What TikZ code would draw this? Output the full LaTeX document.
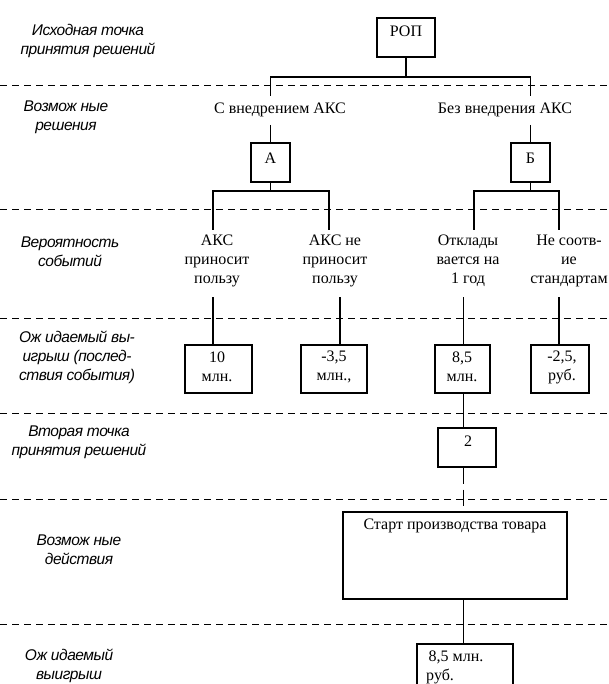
\documentclass[tikz,border=0pt]{standalone}
\usepackage{fontspec}
\setmainfont{Liberation Serif}
\newfontfamily\lblfont{Liberation Sans}[LetterSpace=-3]
\begin{document}
\begin{tikzpicture}[x=1pt,y=-1pt,
  ln/.style={line width=1.2pt},
  sep/.style={line width=1pt, dash pattern=on 7pt off 5pt},
  box/.style={draw, line width=1.2pt, inner sep=0pt},
  txt/.style={font=\fontsize{16}{19}\selectfont, align=center, inner sep=0pt},
  lbl/.style={font=\lblfont\itshape\fontsize{15.5}{19}\selectfont, align=center, inner sep=0pt},
  dline/.style={line width=1.2pt, dash pattern=on 16pt off 6pt}]
\useasboundingbox (0,0) rectangle (609,684);
\clip (0,0) rectangle (609,684);
% separators
\foreach \yy in {86,210,318,413,499,624} \draw[sep] (0,\yy) -- (609,\yy);
% left labels
\node[lbl] (l1) at (88,41) {Исходная точка\\принятия решений};
\node[lbl] (l2) at (66,117) {Возмож ные\\решения};
\node[lbl] (l3) at (70,252) {Вероятность\\событий};
\node[lbl] (l4) at (77,357) {Ож идаемый вы-\\игрыш (послед-\\ствия события)};
\node[lbl] (l5) at (79,442) {Вторая точка\\принятия решений};
\node[lbl] (l6) at (79,550) {Возмож ные\\действия};
\node[lbl] (l7) at (69,666) {Ож идаемый\\выигрыш};
% root
\node[box, minimum width=58pt, minimum height=39pt] (rop) at (406,37.5) {};
\node[txt] (ropt) at (406,31) {РОП};
\coordinate (j1) at (406,77);
% decisions
\node[txt] (optA) at (280,110) {С внедрением АКС};
\node[txt] (optB) at (505,110) {Без внедрения АКС};
\coordinate (a1) at (270.5,96); \coordinate (a2) at (270.5,125);
\coordinate (b1) at (530.5,96); \coordinate (b2) at (530.5,125);
\node[box, minimum width=39pt, minimum height=39pt] (bA) at (270.5,162.5) {};
\node[txt] (bAt) at (270.5,158) {А};
\node[box, minimum width=39pt, minimum height=39pt] (bB) at (530.5,162.5) {};
\node[txt] (bBt) at (530.5,158) {Б};
\draw[ln] (rop.south) -- (j1);
\draw[ln] (a1) |- (j1) -| (b1);
\draw[ln] (a2) -- (bA.north);
\draw[ln] (b2) -- (bB.north);
% events
\coordinate (ja) at (270.5,191); \coordinate (jb) at (530.5,191);
\coordinate (e1t) at (213,230); \coordinate (e2t) at (329,230);
\coordinate (e3t) at (474,230); \coordinate (e4t) at (559,230);
\draw[ln] (bA.south) -- (ja);
\draw[ln] (e1t) |- (ja) -| (e2t);
\draw[ln] (bB.south) -- (jb);
\draw[ln] (e3t) |- (jb) -| (e4t);
\node[txt] (e1) at (217,261) {АКС\\приносит\\пользу};
\node[txt] (e2) at (335,261) {АКС не\\приносит\\пользу};
\node[txt] (e3) at (468,261) {Отклады\\вается на\\1 год};
\node[txt] (e4) at (569,261) {Не соотв-\\ие\\стандартам};
\coordinate (e1b) at (213,297); \coordinate (e2b) at (340,297);
\coordinate (e3b) at (463.5,297); \coordinate (e4b) at (559,297);
% payoffs
\node[box, minimum width=67pt, minimum height=48pt] (v1) at (218.5,369) {};
\node[box, minimum width=66pt, minimum height=48pt] (v2) at (334,369) {};
\node[box, minimum width=55pt, minimum height=48pt] (v3) at (462.5,369) {};
\node[box, minimum width=58pt, minimum height=48pt] (v4) at (560,369) {};
\node[txt] (v1t) at (217,367) {10\\млн.};
\node[txt] (v2t) at (334,367) {-3,5\\млн.,};
\node[txt] (v3t) at (462,367) {8,5\\млн.};
\node[txt] (v4t) at (562,367) {-2,5,\\руб.};
\draw[ln] (e1b) -- (v1.north -| e1b);
\draw[ln] (e2b) -- (v2.north -| e2b);
\draw[ln] (e3b) -- (v3.north -| e3b);
\draw[ln] (e4b) -- (v4.north -| e4b);
% second decision
\node[box, minimum width=58pt, minimum height=39pt] (d2) at (467,447.5) {};
\node[txt] (d2t) at (468,441) {2};
\node[box, minimum width=224pt, minimum height=87pt] (st) at (455,555.5) {};
\node[txt] (stt) at (455,526) {Старт производства товара};
\node[box, minimum width=96pt, minimum height=56pt] (fin) at (465,672) {};
\node[txt, align=left, anchor=west] (fint) at (426,667) {\hspace*{2.5pt}8,5 млн.\\руб.};
\draw[ln] (v3.south -| e3b) -- (d2.north -| e3b);
\draw[dline] (d2.south -| e3b) -- (st.north -| e3b);
\draw[ln] (st.south -| e3b) -- (fin.north -| e3b);
\end{tikzpicture}
\end{document}
